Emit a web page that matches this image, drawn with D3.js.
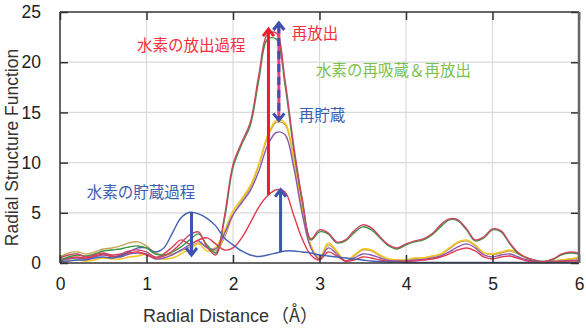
<!DOCTYPE html>
<html>
<head>
<meta charset="utf-8">
<script src="https://cdn.jsdelivr.net/npm/d3@7"></script>
<style>
  body { margin: 0; background: #fff; }
  svg text { font-family: "Liberation Sans", Arial, sans-serif; }
  .jp { font-family: "Noto Sans CJK JP", "Noto Sans", sans-serif; }
</style>
</head>
<body>
<div id="chart"></div>
<script>
// radial distance (Å)
var distance = [0, 0.1, 0.2, 0.3, 0.4, 0.5, 0.6, 0.7, 0.8, 0.9,
    1.0, 1.1, 1.2, 1.3, 1.4, 1.5, 1.6, 1.7, 1.8, 1.9,
    2.0, 2.1, 2.2, 2.3, 2.4, 2.5, 2.6, 2.7, 2.8, 2.9,
    3.0, 3.1, 3.2, 3.3, 3.4, 3.5, 3.6, 3.7, 3.8, 3.9,
    4.0, 4.1, 4.2, 4.3, 4.4, 4.5, 4.6, 4.7, 4.8, 4.9,
    5.0, 5.1, 5.2, 5.3, 5.4, 5.5, 5.6, 5.7, 5.8, 5.9, 6.0];

var tanValues = [0.6, 1.0, 1.1, 0.9, 1.1, 1.4, 1.5, 1.7, 2.0, 2.1,
    1.7, 1.0, 0.8, 0.9, 1.2, 1.6, 2.0, 1.6, 1.2, 2.5,
    4.8, 6.2, 7.5, 9.8, 12.5, 14.0, 13.8, 10.3, 5.4, 1.7,
    0.5, 1.8, 1.1, 0.2, 0.7, 1.3, 1.2, 0.7, 0.35, 0.3,
    0.3, 0.45, 0.5, 0.65, 0.85, 1.4, 2.0, 2.2, 1.7, 1.0,
    0.85, 1.0, 1.2, 0.9, 0.45, 0.2, 0.1, 0.2, 0.3, 0.4, 0.5];

var yellowValues = [0.1, 0.2, 0.3, 0.2, 0.3, 0.5, 0.4, 0.4, 0.6, 0.7,
    0.9, 0.5, 0.4, 0.5, 0.9, 1.4, 1.9, 1.2, 1.6, 3.2,
    5.2, 6.4, 7.7, 9.9, 12.7, 14.2, 14.0, 10.5, 5.6, 1.8,
    0.5, 2.0, 1.2, 0.2, 0.8, 1.4, 1.3, 0.8, 0.4, 0.3,
    0.3, 0.5, 0.5, 0.7, 0.9, 1.5, 2.1, 2.3, 1.8, 1.0,
    0.9, 1.1, 1.3, 1.0, 0.5, 0.2, 0.1, 0.2, 0.3, 0.4, 0.6];

var purpleValues = [0.2, 0.4, 0.5, 0.4, 0.6, 0.8, 0.7, 0.6, 0.9, 1.0,
    0.9, 0.4, 0.5, 0.8, 1.3, 1.8, 2.2, 1.5, 1.4, 2.9,
    4.8, 6.0, 7.2, 9.2, 11.7, 13.0, 12.8, 9.6, 4.9, 1.5,
    0.4, 1.5, 0.9, 0.2, 0.5, 0.9, 0.8, 0.5, 0.25, 0.2,
    0.2, 0.3, 0.35, 0.5, 0.7, 1.1, 1.6, 1.9, 1.5, 0.8,
    0.6, 0.8, 0.9, 0.6, 0.3, 0.15, 0.1, 0.15, 0.2, 0.25, 0.3];

var redValues = [0.3, 0.5, 0.6, 0.5, 0.7, 0.9, 0.6, 0.8, 1.0, 1.1,
    0.8, 0.5, 0.9, 1.6, 2.3, 1.9, 2.3, 2.5, 1.9, 1.3,
    1.5, 2.5, 4.0, 5.6, 6.7, 7.3, 7.1, 4.8, 2.4, 0.8,
    0.3, 1.1, 0.7, 0.2, 0.3, 0.6, 0.5, 0.3, 0.15, 0.15,
    0.15, 0.2, 0.3, 0.4, 0.6, 0.9, 1.3, 1.5, 1.2, 0.6,
    0.4, 0.6, 0.7, 0.45, 0.2, 0.1, 0.05, 0.1, 0.15, 0.2, 0.2];

var blueValues = [0.1, 0.2, 0.3, 0.3, 0.5, 0.6, 0.5, 0.7, 1.1, 1.5,
    1.5, 1.1, 1.5, 3.0, 4.5, 5.05, 4.9, 4.45, 3.7, 2.5,
    1.8, 1.2, 0.8, 0.65, 0.8, 1.0, 1.2, 1.2, 1.1, 1.0,
    0.8, 0.7, 0.6, 0.5, 0.4, 0.3, 0.2, 0.15, 0.1, 0.1,
    0.05, 0.05, 0.05, 0.05, 0.05, 0.05, 0.05, 0.05, 0.05, 0.05,
    0.05, 0.05, 0.05, 0.05, 0.05, 0.05, 0.05, 0.05, 0.05, 0.05, 0.05];

var greenValues = [0.3, 0.6, 0.8, 0.7, 0.9, 1.2, 1.3, 1.4, 1.6, 1.7,
    1.5, 0.9, 0.8, 1.1, 1.6, 2.3, 2.9, 1.8, 1.0, 4.3,
    9.5, 11.8, 13.7, 18.3, 22.3, 22.3, 17.8, 11.4, 6.2, 2.3,
    3.1, 2.9, 2.0, 2.2, 3.0, 3.6, 3.3, 2.5, 1.7, 1.4,
    1.8, 2.1, 2.3, 2.8, 3.6, 4.3, 4.2, 3.3, 2.2, 2.5,
    3.3, 3.1, 1.9, 0.9, 0.5, 0.25, 0.15, 0.35, 0.8, 1.0, 0.9];

var crimsonValues = [0.5, 0.8, 0.9, 0.6, 0.8, 1.0, 0.8, 0.9, 1.2, 1.3,
    1.1, 0.6, 0.7, 1.2, 2.0, 2.8, 3.1, 1.6, 0.8, 4.6,
    9.8, 12.0, 14.0, 18.8, 22.8, 22.9, 18.3, 11.8, 6.4, 2.4,
    3.3, 3.0, 2.1, 2.3, 3.2, 3.8, 3.5, 2.6, 1.8, 1.5,
    1.9, 2.2, 2.4, 2.9, 3.8, 4.4, 4.3, 3.4, 2.3, 2.6,
    3.4, 3.2, 2.0, 1.0, 0.5, 0.25, 0.15, 0.4, 0.9, 1.1, 1.0];

var xTicks = [0, 1, 2, 3, 4, 5, 6];
var yTicks = [0, 5, 10, 15, 20, 25];

// annotation texts: label, x start (Å), y centre (RSF value)
var labelTexts = ["水素の放出過程", "再放出", "水素の再吸蔵＆再放出", "再貯蔵", "水素の貯蔵過程"];
var labelX = [0.89, 2.68, 2.96, 2.76, 0.31];
var labelY = [21.7, 22.9, 19.2, 14.7, 7.0];
var labelColors = ["#f5303c", "#f5303c", "#7cc24e", "#3c5eb0", "#3c5eb0"];

var series = [
    { name: "tan", values: tanValues, color: "#c9a55a" },
    { name: "yellow", values: yellowValues, color: "#f2c51c" },
    { name: "purple", values: purpleValues, color: "#8a58b0" },
    { name: "red", values: redValues, color: "#e23a4e" },
    { name: "blue", values: blueValues, color: "#4460b0" },
    { name: "green", values: greenValues, color: "#3b963e" },
    { name: "crimson", values: crimsonValues, color: "#cc4466" }
];

var margin = { top: 12, right: 7, bottom: 66, left: 60 },
    width = 586 - margin.left - margin.right,
    height = 329 - margin.top - margin.bottom;

var svg = d3.select("#chart")
    .append("svg")
    .attr("width", width + margin.left + margin.right)
    .attr("height", height + margin.top + margin.bottom)
    .append("g")
    .attr("transform", "translate(" + margin.left + "," + margin.top + ")");

var x = d3.scaleLinear().domain([0, 6]).range([0, width]);
var y = d3.scaleLinear().domain([0, 25]).range([height, 0]);

// grid
svg.append("g")
    .selectAll("line.gx").data(xTicks.slice(1, -1))
    .enter().append("line")
    .attr("x1", d => x(d)).attr("x2", d => x(d))
    .attr("y1", 0).attr("y2", height)
    .attr("stroke", "#dadada").attr("stroke-width", 1.2);
svg.append("g")
    .selectAll("line.gy").data(yTicks.slice(1, -1))
    .enter().append("line")
    .attr("x1", 0).attr("x2", width)
    .attr("y1", d => y(d)).attr("y2", d => y(d))
    .attr("stroke", "#dadada").attr("stroke-width", 1.2);

// curves
var line = d3.line()
    .x(function (d, i) { return x(distance[i]); })
    .y(function (d) { return y(d); })
    .curve(d3.curveCatmullRom.alpha(0.5));

svg.selectAll(".rsf").data(series)
    .enter().append("path")
    .attr("fill", "none")
    .attr("stroke", d => d.color)
    .attr("stroke-width", 1.4)
    .attr("d", d => line(d.values));

// axes with inward ticks
function styleAxis(g) {
    g.select(".domain").remove();
    g.selectAll(".tick line").attr("stroke", "#333").attr("stroke-width", 1.5);
    g.selectAll(".tick text").attr("fill", "#222").style("font-size", "17.5px");
}
svg.append("g")
    .attr("transform", "translate(0," + height + ")")
    .call(d3.axisBottom(x).tickValues(xTicks).tickSize(-8).tickPadding(15).tickFormat(d3.format("d")))
    .call(styleAxis);
svg.append("g")
    .call(d3.axisTop(x).tickValues(xTicks).tickSize(-8).tickFormat(""))
    .call(styleAxis);
svg.append("g")
    .call(d3.axisLeft(y).tickValues(yTicks).tickSize(-8).tickPadding(19))
    .call(styleAxis);
svg.append("g")
    .attr("transform", "translate(" + width + ",0)")
    .call(d3.axisRight(y).tickValues(yTicks).tickSize(-8).tickFormat(""))
    .call(styleAxis);

// frame
svg.append("line").attr("x1", 0).attr("x2", width).attr("y1", 0).attr("y2", 0)
    .attr("stroke", "#333").attr("stroke-width", 1.5);
svg.append("line").attr("x1", 0).attr("x2", width).attr("y1", height).attr("y2", height)
    .attr("stroke", "#333").attr("stroke-width", 1.5);
svg.append("line").attr("x1", 0).attr("x2", 0).attr("y1", 0).attr("y2", height)
    .attr("stroke", "#333").attr("stroke-width", 1.5);
svg.append("line").attr("x1", width).attr("x2", width).attr("y1", 0).attr("y2", height)
    .attr("stroke", "#666").attr("stroke-width", 2.5);

// arrows
function chevron(px, py, dir, color, w) {
    // dir = -1 points up, 1 points down
    svg.append("path")
        .attr("d", "M" + (px - 5.5) + "," + (py - dir * 7) + " L" + px + "," + py + " L" + (px + 5.5) + "," + (py - dir * 7))
        .attr("fill", "none")
        .attr("stroke", color)
        .attr("stroke-width", w)
        .attr("stroke-linejoin", "miter");
}

// red: release
svg.append("line")
    .attr("x1", x(2.41)).attr("x2", x(2.41))
    .attr("y1", y(6.8)).attr("y2", y(23.2))
    .attr("stroke", "#ee1c2a").attr("stroke-width", 3);
chevron(x(2.41), y(23.3), -1, "#ee1c2a", 3);

// dashed double arrow: re-release / re-storage
svg.append("line")
    .attr("x1", x(2.53)).attr("x2", x(2.53))
    .attr("y1", y(23.7)).attr("y2", y(14.4))
    .attr("stroke", "#e8407a").attr("stroke-width", 3);
svg.append("line")
    .attr("x1", x(2.53)).attr("x2", x(2.53))
    .attr("y1", y(23.7)).attr("y2", y(14.4))
    .attr("stroke", "#3c4fb0").attr("stroke-width", 3)
    .attr("stroke-dasharray", "8,5");
chevron(x(2.53), y(23.9), -1, "#3c4fb0", 3);
chevron(x(2.53), y(14.2), 1, "#3c4fb0", 3);

// blue up arrow
svg.append("line")
    .attr("x1", x(2.55)).attr("x2", x(2.55))
    .attr("y1", y(1.1)).attr("y2", y(7.2))
    .attr("stroke", "#3c55b0").attr("stroke-width", 3);
chevron(x(2.55), y(7.3), -1, "#3c55b0", 3);

// blue down arrow: storage
svg.append("line")
    .attr("x1", x(1.52)).attr("x2", x(1.52))
    .attr("y1", y(5.05)).attr("y2", y(0.9))
    .attr("stroke", "#3c55b0").attr("stroke-width", 3);
chevron(x(1.52), y(0.8), 1, "#3c55b0", 3);

// annotation labels
svg.selectAll(".lbl").data(labelTexts)
    .enter().append("text")
    .attr("class", "jp")
    .attr("x", (d, i) => x(labelX[i]))
    .attr("y", (d, i) => y(labelY[i]))
    .attr("dy", "0.36em")
    .attr("fill", (d, i) => labelColors[i])
    .style("font-size", "15.5px")
    .text(d => d);

// axis titles
svg.append("text")
    .attr("transform", "translate(" + (-42) + "," + (height / 2 + 10) + ") rotate(-90)")
    .attr("text-anchor", "middle")
    .attr("fill", "#333")
    .style("font-size", "17.5px")
    .text("Radial Structure Function");

svg.append("text")
    .attr("x", 83)
    .attr("y", height + 59)
    .attr("fill", "#333")
    .style("font-size", "18px")
    .html('Radial Distance<tspan class="jp" dx="2">（Å）</tspan>');
</script>
</body>
</html>
